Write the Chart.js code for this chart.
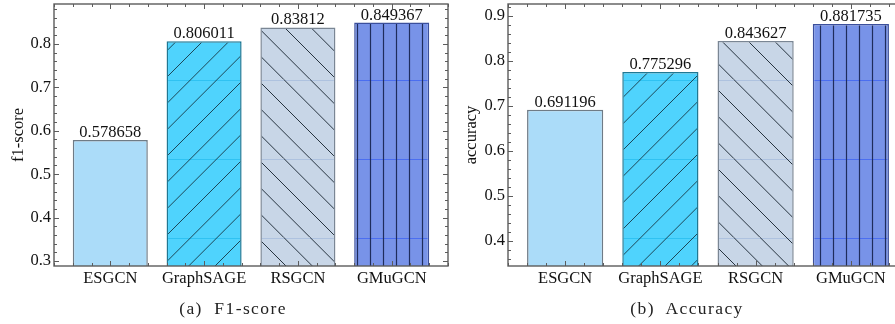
<!DOCTYPE html>
<html>
<head>
<meta charset="utf-8">
<script src="https://cdn.jsdelivr.net/npm/chart.js@4.4.1/dist/chart.umd.min.js"></script>
<style>
  body { margin: 0; width: 895px; height: 324px; overflow: hidden; background: #fff; position: relative; }
  .panel { position: absolute; top: 0; }
  .caption {
    position: absolute; top: 298px; transform: translateX(-50%);
    font: 17.5px "Liberation Serif", serif; letter-spacing: 1.4px; color: #222; white-space: nowrap;
  }
</style>
</head>
<body>
<canvas id="f1Chart" class="panel" width="450" height="324" style="left:0"></canvas>
<canvas id="accChart" class="panel" width="460" height="324" style="left:450px"></canvas>
<div class="caption" style="left:233px">(a)&nbsp; F1-score</div>
<div class="caption" style="left:687px">(b)&nbsp; Accuracy</div>
<script>
const models = ["ESGCN", "GraphSAGE", "RSGCN", "GMuGCN"];
const f1Scores = [0.578658, 0.806011, 0.83812, 0.849367];
const accuracies = [0.691196, 0.775296, 0.843627, 0.881735];
const f1Range = [0.2885, 0.892];
const accRange = [0.3445, 0.926];

const serif = '"Liberation Serif", "Times New Roman", serif';

// pattern tiles for the hatched bars
const makeTile = (w, h, fill, drawLines) => {
  const c = document.createElement("canvas");
  c.width = w;
  c.height = h;
  const g = c.getContext("2d");
  g.fillStyle = fill;
  g.fillRect(0, 0, w, h);
  drawLines(g, w, h);
  return g.createPattern(c, "repeat");
};

const faintRow = (g, w, color) => {
  g.strokeStyle = color;
  g.lineWidth = 1;
  g.beginPath();
  g.moveTo(0, 1.5);
  g.lineTo(w, 1.5);
  g.stroke();
};

const forwardHatch = makeTile(79, 79, "#4fd3fd", (g, w, h) => {
  faintRow(g, w, "#2fc2f2");
  const s = w / 3;
  g.strokeStyle = "#1c4657";
  g.lineWidth = 1;
  g.beginPath();
  for (let k = -4; k <= 10; k++) {
    const c = 7 + k * s;
    g.moveTo(c, 0);
    g.lineTo(c - h, h);
  }
  g.stroke();
});

const backHatch = makeTile(79, 79, "#c8d6e7", (g, w, h) => {
  faintRow(g, w, "#aec2df");
  const s = w / 3;
  g.strokeStyle = "#26333f";
  g.lineWidth = 1;
  g.beginPath();
  for (let k = -7; k <= 7; k++) {
    const d = 20 + k * s;
    g.moveTo(d, 0);
    g.lineTo(d + h, h);
  }
  g.stroke();
});

const verticalLines = makeTile(13, 79, "#7893e8", (g, w, h) => {
  faintRow(g, w, "#4b6ef0");
  g.strokeStyle = "#1f2d5c";
  g.lineWidth = 1.2;
  g.beginPath();
  g.moveTo(6.5, 0);
  g.lineTo(6.5, h);
  g.stroke();
});

const fills = ["#abdcf9", forwardHatch, backHatch, verticalLines];
const borders = ["#6f7b86", "#1f7893", "#7a8694", "#3b4f9c"];

// inward ticks on all four sides, frame and value labels
const framePlugin = {
  id: "frame",
  afterDatasetsDraw(chart) {
    const { ctx, chartArea: a, scales: { x, y } } = chart;
    ctx.save();
    ctx.strokeStyle = "#5c5c5c";
    ctx.lineWidth = 1;
    ctx.beginPath();
    y.ticks.forEach((t) => {
      const py = Math.round(y.getPixelForValue(t.value)) + 0.5;
      const len = t.label ? 5 : 3;
      ctx.moveTo(a.left, py);
      ctx.lineTo(a.left + len, py);
      ctx.moveTo(a.right, py);
      ctx.lineTo(a.right - len, py);
    });
    for (let k = 2; k <= 23; k++) {
      const px = Math.round(x.getPixelForValue(k / 5)) + 0.5;
      const len = k % 5 === 0 ? 5 : 3;
      ctx.moveTo(px, a.top);
      ctx.lineTo(px, a.top + len);
      ctx.moveTo(px, a.bottom);
      ctx.lineTo(px, a.bottom - len);
    }
    ctx.stroke();
    ctx.lineWidth = 1.4;
    ctx.strokeRect(a.left, a.top, a.right - a.left, a.bottom - a.top);

    const values = chart.data.datasets[0].data;
    ctx.fillStyle = "#111";
    ctx.font = "16.5px " + serif;
    ctx.textAlign = "center";
    ctx.textBaseline = "alphabetic";
    chart.getDatasetMeta(0).data.forEach((bar, i) => {
      ctx.fillText(String(values[i].y), bar.x, bar.y - 3);
    });
    ctx.restore();
  },
};

const makeChart = (id, values, range, axisTitle, yWidth, titlePad) => {
  const ctx = document.getElementById(id).getContext("2d");
  return new Chart(ctx, {
    type: "bar",
    data: {
      datasets: [
        {
          data: values.map((v, i) => ({ x: i + 1, y: v })),
          backgroundColor: fills,
          borderColor: borders,
          borderWidth: 1.5,
          borderSkipped: "bottom",
          barPercentage: 0.8,
          categoryPercentage: 1,
          clip: 0,
        },
      ],
    },
    options: {
      responsive: false,
      animation: false,
      devicePixelRatio: 1,
      layout: { padding: { left: 0, top: 4, right: 2, bottom: 0 } },
      plugins: { legend: { display: false }, tooltip: { enabled: false } },
      scales: {
        x: {
          type: "linear",
          min: 0.4,
          max: 4.6,
          offset: false,
          grid: { display: false, drawTicks: false, offset: false },
          border: { display: false },
          ticks: {
            stepSize: 1,
            includeBounds: false,
            autoSkip: false,
            maxRotation: 0,
            padding: 3,
            color: "#111",
            font: { family: serif, size: 16.5 },
            callback: (v) => models[v - 1] || "",
          },
          afterFit: (s) => {
            s.height = 58;
            s.paddingLeft = 0;
            s.paddingRight = 0;
          },
        },
        y: {
          min: range[0],
          max: range[1],
          grid: { display: false, drawTicks: false },
          border: { display: false },
          ticks: {
            stepSize: 0.02,
            includeBounds: false,
            autoSkip: false,
            padding: 3,
            color: "#111",
            font: { family: serif, size: 16.5 },
            callback: (v) =>
              Math.abs(v * 10 - Math.round(v * 10)) < 1e-6 ? v.toFixed(1) : "",
          },
          title: {
            display: true,
            text: axisTitle,
            color: "#111",
            font: { family: serif, size: 16.5 },
            padding: { top: titlePad, bottom: 0 },
          },
          afterFit: (s) => {
            s.width = yWidth;
            s.paddingTop = 0;
            s.paddingBottom = 0;
          },
        },
      },
    },
    plugins: [framePlugin],
  });
};

makeChart("f1Chart", f1Scores, f1Range, "f1-score", 54, 9);
makeChart("accChart", accuracies, accRange, "accuracy", 58, 12);
</script>
</body>
</html>
